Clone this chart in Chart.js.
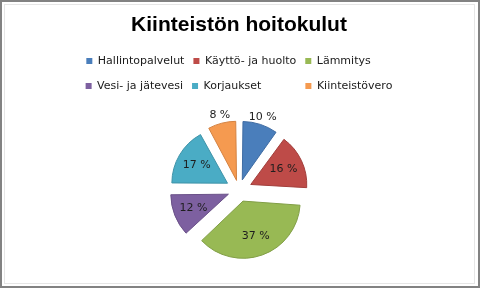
<!DOCTYPE html>
<html>
<head>
<meta charset="utf-8">
<script src="https://cdn.jsdelivr.net/npm/chart.js@4.4.0/dist/chart.umd.min.js"></script>
<style>
  html, body { margin: 0; padding: 0; background: #fff; }
  #frame { position: relative; width: 480px; height: 288px; box-sizing: border-box; border: 2px solid #828282; background: #fff; }
  #inner { position: absolute; left: 2px; top: 2px; width: 471px; height: 280px; box-sizing: border-box; border: 1px solid #e6e6e6; }
  #chart { position: absolute; left: 0; top: 0; }
</style>
</head>
<body>
<div id="frame">
  <div id="inner"></div>
  <canvas id="chart" width="476" height="284"></canvas>
</div>
<script>
const categories = ['Hallintopalvelut', 'Käyttö- ja huolto', 'Lämmitys', 'Vesi- ja jätevesi', 'Korjaukset', 'Kiinteistövero'];
const shares = [10, 16, 37, 12, 17, 8];
const sliceColors = ['#4a7ebb', '#be4b48', '#98b954', '#7d60a0', '#4aacc5', '#f59a50'];
const sliceEdges = ['#3f6ca3', '#a23f3c', '#819e46', '#6a5188', '#3f93a8', '#d48343'];

const explode = 15;   // px every slice is pulled out
const keySize = 6;    // legend square
const legendFont = { family: 'DejaVu Sans', size: 11 };

// Chart.js moves an arc by offset/4 * (1 + fix); undo that so every slice moves `explode` px
function sliceOffset(ctx) {
  const circ = shares[ctx.dataIndex] / 100 * Math.PI * 2;
  const fix = 1 - Math.sin(Math.min(Math.PI, circ));
  return explode * 4 / (1 + fix);
}

// Excel lays the legend out in columns; pad each label so both rows line up.
// The library box is made invisible (it is tall to get Excel's row spacing),
// the small squares are drawn by legendKeys below.
function columnLabels(chart) {
  const items = Chart.overrides.pie.plugins.legend.labels.generateLabels(chart);
  const ctx = chart.ctx;
  ctx.save();
  ctx.font = legendFont.size + 'px "' + legendFont.family + '"';
  const cols = 3;
  for (let c = 0; c < cols; c++) {
    const group = items.filter((_, i) => i % cols === c);
    const target = Math.max(...group.map(it => ctx.measureText(it.text).width));
    group.forEach(it => {
      while (ctx.measureText(it.text + ' ').width <= target + 1.75) it.text += ' ';
    });
  }
  ctx.restore();
  items.forEach(it => {
    it.fillStyle = 'rgba(0,0,0,0)';
    it.strokeStyle = 'rgba(0,0,0,0)';
    it.lineWidth = 0;
  });
  return items;
}

const legendKeys = {
  id: 'legendKeys',
  afterDraw(chart) {
    const ctx = chart.ctx;
    const boxes = chart.legend.legendHitBoxes;
    ctx.save();
    boxes.forEach((b, i) => {
      const y = b.top + (b.height - keySize) / 2;
      ctx.fillStyle = sliceColors[i];
      ctx.fillRect(b.left, y, keySize, keySize);
    });
    ctx.restore();
  }
};

const pctLabels = {
  id: 'pctLabels',
  afterDatasetsDraw(chart) {
    const ctx = chart.ctx;
    const meta = chart.getDatasetMeta(0);
    ctx.save();
    ctx.font = '11px "DejaVu Sans"';
    ctx.fillStyle = '#1e1e1e';
    ctx.textAlign = 'center';
    ctx.textBaseline = 'middle';
    meta.data.forEach((arc, i) => {
      const p = arc.getProps(['x', 'y', 'startAngle', 'endAngle', 'outerRadius'], true);
      const mid = (p.startAngle + p.endAngle) / 2;
      const d = explode + (shares[i] < 11 ? p.outerRadius + 8 : p.outerRadius * 0.63);
      ctx.fillText(shares[i] + ' %', p.x + Math.cos(mid) * d, p.y + Math.sin(mid) * d);
    });
    ctx.restore();
  }
};

new Chart(document.getElementById('chart'), {
  type: 'pie',
  data: {
    labels: categories,
    datasets: [{
      data: shares,
      backgroundColor: sliceColors,
      borderColor: sliceEdges,
      borderWidth: 1,
      offset: sliceOffset,
      radius: 54
    }]
  },
  options: {
    responsive: false,
    animation: false,
    layout: { padding: { left: 49, right: 51, top: 0, bottom: 10 } },
    plugins: {
      title: {
        display: true,
        text: 'Kiinteistön hoitokulut',
        color: '#000',
        font: { family: 'Liberation Sans', size: 21, weight: 'bold', lineHeight: 1.2 },
        padding: { top: 10.5, bottom: 6.3 }
      },
      legend: {
        position: 'top',
        labels: {
          font: legendFont,
          color: '#1a1a1a',
          boxWidth: keySize,
          boxHeight: 16,
          padding: 9,
          generateLabels: columnLabels
        }
      },
      tooltip: { enabled: false }
    }
  },
  plugins: [pctLabels, legendKeys]
});
</script>
</body>
</html>
